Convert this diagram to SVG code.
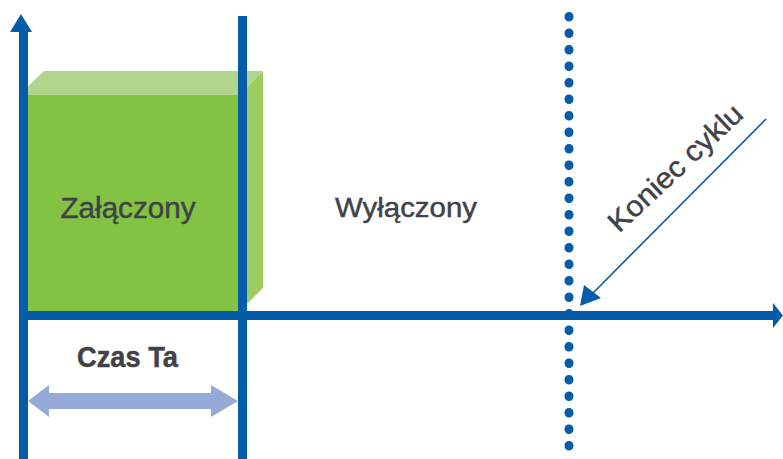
<svg xmlns="http://www.w3.org/2000/svg" width="783" height="459" viewBox="0 0 783 459">
  <style>
    .axis { stroke: #055DA9; stroke-width: 9; fill: none; }
    .head { fill: #055DA9; }
    .label { font-family: "Liberation Sans", Arial, sans-serif; fill: #404246; stroke: #404246; stroke-width: 0.45; }
  </style>
  <rect width="783" height="459" fill="#ffffff"/>

  <!-- On-state block (3D box) -->
  <g id="block-on">
    <polygon points="19,95 44,71 263,71 239,95" fill="#b1d58c"/>
    <polygon points="239,95 263,71 263,288 239,312" fill="#9ccd63"/>
    <rect x="19" y="95" width="220" height="217" fill="#83c343"/>
    <text class="label" x="128" y="218" font-size="29" text-anchor="middle" textLength="135" lengthAdjust="spacingAndGlyphs">Załączony</text>
  </g>

  <g id="label-off">
    <text class="label" x="406" y="217" font-size="28" text-anchor="middle" textLength="142" lengthAdjust="spacingAndGlyphs">Wyłączony</text>
  </g>

  <g id="label-time">
    <text class="label" x="127.5" y="367" font-size="29" font-weight="bold" stroke-width="0.2" text-anchor="middle" textLength="101" lengthAdjust="spacingAndGlyphs">Czas Ta</text>
  </g>

  <g id="label-end">
    <text class="label" transform="translate(682,175) rotate(-43)" x="0" y="0" font-size="29" text-anchor="middle" textLength="172" lengthAdjust="spacingAndGlyphs">Koniec cyklu</text>
  </g>

  <g id="connectors">
    <!-- vertical axis with arrow -->
    <line class="axis" x1="23.5" y1="459" x2="23.5" y2="30"/>
    <polygon class="head" points="21,14 10,32 32,32"/>
    <!-- horizontal axis with arrow -->
    <line class="axis" x1="19" y1="315.5" x2="775" y2="315.5"/>
    <polygon class="head" points="773,303 783,315.5 773,328"/>
    <!-- end of on-time -->
    <line class="axis" x1="242.5" y1="16" x2="242.5" y2="459"/>
    <!-- cycle end marker -->
    <line class="axis" x1="569" y1="16.5" x2="569" y2="459" stroke-linecap="round" stroke-dasharray="0.5 16"/>
    <!-- duration arrow -->
    <polygon fill="#96aad7" points="28,401 49,385 49,393 211,393 211,385 238,401 211,417 211,409 49,409 49,417"/>
    <!-- pointer to cycle end -->
    <line x1="766" y1="119" x2="592" y2="294" stroke="#055DA9" stroke-width="1.6"/>
    <polygon class="head" points="580,306 584,285 601,298"/>
  </g>
</svg>
